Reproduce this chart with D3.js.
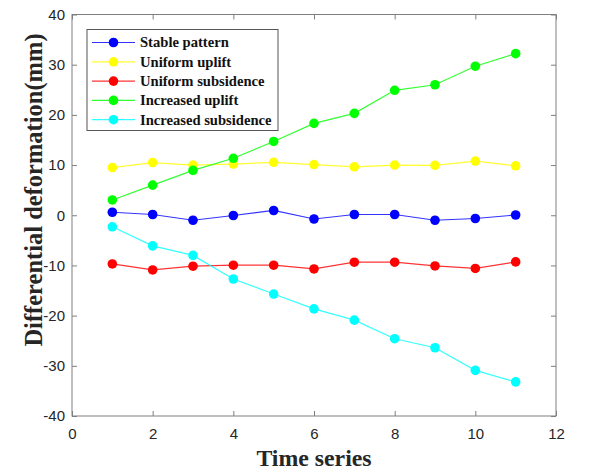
<!DOCTYPE html>
<html><head><meta charset="utf-8">
<script src="https://cdn.jsdelivr.net/npm/d3@7"></script>
<style>body{margin:0;background:#fff}</style>
</head><body>
<svg id="c" width="612" height="470"></svg>
<script>
const timeSteps = [1,2,3,4,5,6,7,8,9,10,11];
const stablePattern = [0.6,0.15,-1.0,-0.05,0.95,-0.75,0.15,0.15,-1.0,-0.65,0.05];
const uniformUplift = [9.5,10.5,10.0,10.2,10.55,10.1,9.65,10.0,9.95,10.8,9.85];
const uniformSubsidence = [-9.7,-10.9,-10.15,-9.95,-9.95,-10.7,-9.35,-9.35,-10.1,-10.6,-9.3];
const increasedUplift = [3.05,6.0,8.95,11.35,14.7,18.3,20.3,24.9,26.0,29.7,32.2];
const increasedSubsidence = [-2.3,-6.1,-8.0,-12.7,-15.7,-18.65,-20.9,-24.6,-26.4,-30.9,-33.2];
const seriesNames = ["Stable pattern","Uniform uplift","Uniform subsidence","Increased uplift","Increased subsidence"];
const seriesColors = ["#0000ff","#ffff00","#ff0000","#00ff00","#00ffff"];
const xTicks = [0,2,4,6,8,10,12];
const yTicks = [-40,-30,-20,-10,0,10,20,30,40];

const seriesData = [stablePattern,uniformUplift,uniformSubsidence,increasedUplift,increasedSubsidence];
const svg = d3.select("#c");
const L=72,R=556,T=14.5,B=416;
const x = d3.scaleLinear().domain([0,12]).range([L,R]);
const y = d3.scaleLinear().domain([-40,40]).range([B,T]);
const axisColor="#7f7f7f", textColor="#262626";
const fmt = d => String(d);

// box
svg.append("rect").attr("x",L).attr("y",T).attr("width",R-L).attr("height",B-T)
  .attr("fill","none").attr("stroke",axisColor).attr("stroke-width",1);

function styleAxis(g){
  g.select(".domain").remove();
  g.selectAll(".tick line").attr("stroke",axisColor);
  g.selectAll(".tick text").attr("fill",textColor).attr("font-family","Liberation Sans, Arial, sans-serif").attr("font-size",15);
}
const gx = svg.append("g").attr("transform",`translate(0,${B})`)
  .call(d3.axisBottom(x).tickValues(xTicks).tickSize(-5).tickPadding(12).tickFormat(fmt));
styleAxis(gx);
const gxt = svg.append("g").attr("transform",`translate(0,${T})`)
  .call(d3.axisTop(x).tickValues(xTicks).tickSize(-5).tickFormat(""));
styleAxis(gxt);
const gy = svg.append("g").attr("transform",`translate(${L},0)`)
  .call(d3.axisLeft(y).tickValues(yTicks).tickSize(-5).tickPadding(7).tickFormat(fmt));
styleAxis(gy);
const gyr = svg.append("g").attr("transform",`translate(${R},0)`)
  .call(d3.axisRight(y).tickValues(yTicks).tickSize(-5).tickFormat(""));
styleAxis(gyr);

// lines and markers
const line = d3.line().x((d,i)=>x(timeSteps[i])).y(d=>y(d));
seriesData.forEach((vals,k)=>{
  svg.append("path").datum(vals).attr("d",line).attr("fill","none")
    .attr("stroke",seriesColors[k]).attr("stroke-width",1.2).attr("opacity",0.8);
  svg.append("g").selectAll("circle").data(vals).join("circle")
    .attr("cx",(d,i)=>x(timeSteps[i])).attr("cy",d=>y(d)).attr("r",4.8)
    .attr("fill",seriesColors[k]);
});

// legend
const lg = svg.append("g");
lg.append("rect").attr("x",87).attr("y",29.5).attr("width",191).attr("height",101)
  .attr("fill","#fff").attr("stroke","#555").attr("stroke-width",1);
seriesNames.forEach((n,k)=>{
  const yy = 42.5 + k*19.3;
  lg.append("line").attr("x1",92).attr("x2",135).attr("y1",yy).attr("y2",yy)
    .attr("stroke",seriesColors[k]).attr("stroke-width",1.2).attr("opacity",0.8);
  lg.append("circle").attr("cx",113.5).attr("cy",yy).attr("r",4.8).attr("fill",seriesColors[k]);
  lg.append("text").attr("x",140).attr("y",yy+4.8).text(n)
    .attr("font-family","Liberation Serif, Times New Roman, serif").attr("font-weight","bold")
    .attr("font-size",14.6).attr("fill","#111");
});

// axis titles
svg.append("text").attr("x",314).attr("y",466).attr("text-anchor","middle")
  .attr("font-family","Liberation Serif, Times New Roman, serif").attr("font-weight","bold")
  .attr("font-size",23.8).attr("fill","#262626").text("Time series");
svg.append("text").attr("transform","translate(42,190) rotate(-90)").attr("text-anchor","middle")
  .attr("font-family","Liberation Serif, Times New Roman, serif").attr("font-weight","bold")
  .attr("font-size",24.5).attr("fill","#262626").text("Differential deformation(mm)");
</script>
</body></html>
